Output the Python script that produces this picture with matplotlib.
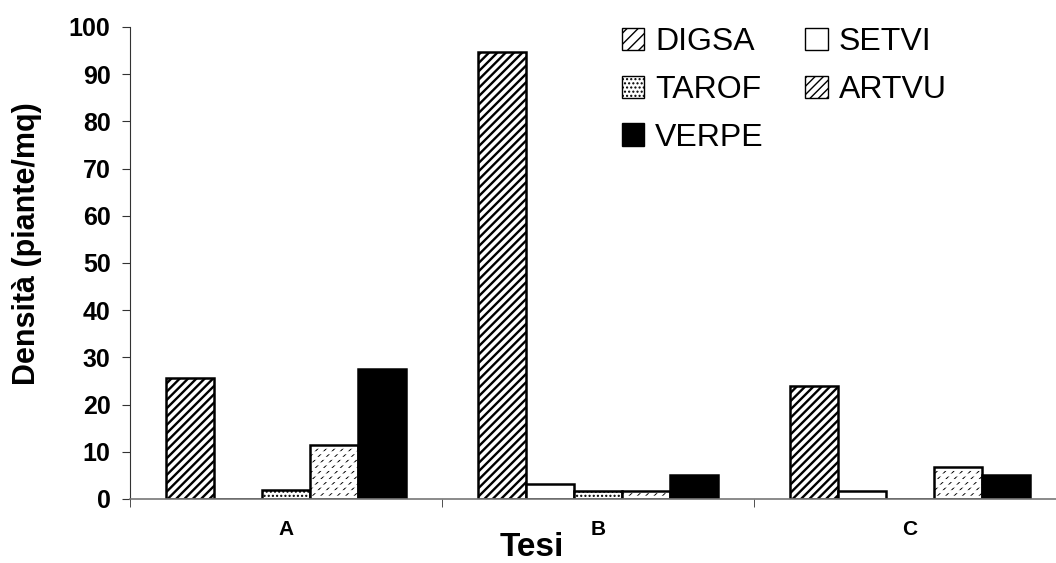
import numpy as np
import matplotlib
matplotlib.use('Agg')
import matplotlib.pyplot as plt
from matplotlib.patches import Patch

plt.rcParams['font.family'] = ['Liberation Sans', 'DejaVu Sans']
plt.rcParams['hatch.linewidth'] = 1.0

## == data ==
tesi = ['A', 'B', 'C']
species = ['DIGSA', 'SETVI', 'TAROF', 'ARTVU', 'VERPE']
digsa = [25.7, 94.6, 24.0]
setvi = [0.0, 3.2, 1.8]
tarof = [1.9, 1.7, 0.0]
artvu = [11.4, 1.7, 6.7]
verpe = [27.5, 5.0, 5.0]
values = [digsa, setvi, tarof, artvu, verpe]

## == styles ==  (each hatch char = 6 lines per 100 px)
fills = ['white', 'white', 'white', 'white', 'black']
hatches = ['////', None, '....', '////', None]
hatch_lw = [1.7, 1.0, 1.0, 0.7, 1.0]


def hatch_width(bars, lw):
    for b in bars:
        if hasattr(b, 'set_hatch_linewidth'):
            b.set_hatch_linewidth(lw)


fig = plt.figure(figsize=(10.56, 5.63), dpi=100)
ax = fig.add_axes([130/1056, 64/563, 936/1056, 472/563])

x = np.arange(len(tesi))
w = 48/312
for k, (name, vals) in enumerate(zip(species, values)):
    bars = ax.bar(x + (k-2)*w, vals, w, color=fills[k], edgecolor='black',
                  linewidth=0, hatch=hatches[k], label=name)
    hatch_width(bars, hatch_lw[k])
    if name == 'ARTVU':
        # white bands break the fine diagonals into rows of dashes
        bands = ax.bar(x + (k-2)*w, vals, w, color='none', edgecolor='white',
                       linewidth=0, hatch='---')
        hatch_width(bands, 2.2)
    ax.bar(x + (k-2)*w, vals, w, color='none', edgecolor='black', linewidth=1.8)

ax.set_xlim(-0.5, 2.5)
ax.set_ylim(0, 100)
ax.set_yticks(np.arange(0, 101, 10))
ax.set_xticks(x)
ax.set_xticklabels(tesi, fontsize=15, fontweight='bold')
ax.tick_params(axis='x', which='major', length=0, pad=15)
ax.set_xticks([-0.5, 0.5, 1.5, 2.5], minor=True)
ax.tick_params(axis='x', which='minor', length=6, direction='out', color='#333333')
ax.tick_params(axis='y', length=6, pad=8, labelsize=18, color='#333333')
for lab in ax.get_yticklabels():
    lab.set_fontweight('bold')

for s in ['top', 'right']:
    ax.spines[s].set_visible(False)
ax.spines['left'].set_color('#333333')
ax.spines['bottom'].set_color('#777777')
ax.spines['bottom'].set_linewidth(1.2)

ax.set_ylabel('Densità (piante/mq)', fontsize=22, fontweight='bold')
ax.yaxis.set_label_coords(-0.094, 0.54)
fig.text(532/1056, 1 - 548/563, 'Tesi', fontsize=24, fontweight='bold',
         ha='center', va='center')

# legend: two columns filled row-wise in the reference
order = [0, 2, 4, 1, 3]
leg_hatch = ['///', None, '....', '////', None]
handles = [Patch(facecolor=fills[i], edgecolor='black', hatch=leg_hatch[i],
                 linewidth=1.0, label=species[i]) for i in order]
ax.legend(handles=handles, ncol=2, frameon=False, fontsize=23,
          handlelength=0.7, handleheight=0.7, handletextpad=0.35,
          columnspacing=1.3, labelspacing=0.55,
          loc='upper left', bbox_to_anchor=(463/936, 1.06))

fig.savefig('out.png', dpi=100)
